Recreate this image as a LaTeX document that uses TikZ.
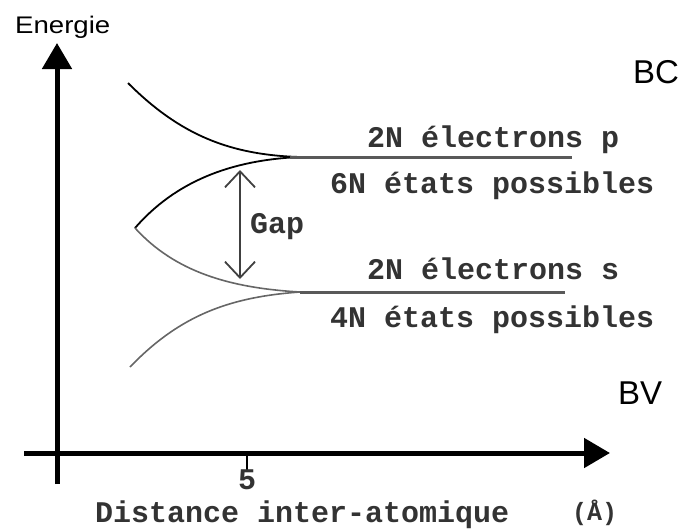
\documentclass[tikz,border=0pt]{standalone}
\usepackage{fontspec}
\setsansfont{Liberation Sans}
\setmonofont{Liberation Mono}
\usepackage{tikz}
\usetikzlibrary{arrows.meta,positioning,calc}

\begin{document}
\begin{tikzpicture}[
    x=1pt, y=-1pt,
    axis/.style={line width=5pt, -{Triangle[length=26pt, width=29pt]}},
    band/.style={line width=1.8pt},
    bandgray/.style={line width=1.6pt, black!60},
    level/.style={line width=3pt, black!65},
    lbl/.style={inner sep=0pt, anchor=base west, font=\ttfamily\bfseries\fontsize{30}{34}\selectfont, text=black!80},
    sans/.style={inner sep=0pt, anchor=base west, font=\sffamily\fontsize{33}{36}\selectfont}
]
\useasboundingbox (0,0) rectangle (680,528);
% axes
\coordinate (ybot) at (57,484);
\coordinate (ytop) at (57,43);
\coordinate (xleft) at (24,453);
\coordinate (xright) at (610,453);
\draw[axis] (ybot) -- (ytop);
\draw[axis] (xleft) -- (xright);
\coordinate (t5) at (247,453);
\coordinate (t5b) at (247,470);
\draw[line width=2.5pt] (t5) -- (t5b);

% band curves
\coordinate (c1) at (128,83);
\coordinate (m) at (135,228);
\coordinate (c4) at (130,367);
\coordinate (jp) at (300,157);
\coordinate (js) at (300,292);
\coordinate (ep) at (572,157);
\coordinate (es) at (565,292);
\draw[band] (c1) .. controls (180,135) and (230,155) .. (jp);
\draw[band] (m) .. controls (175,182) and (230,160) .. (jp);
\draw[bandgray] (m) .. controls (175,272) and (230,288) .. (js);
\draw[bandgray] (c4) .. controls (180,315) and (230,297) .. (js);
\draw[level] (290,157) -- (ep);
\draw[level] (js) -- (es);

% gap arrow
\coordinate (gtop) at (240,170);
\coordinate (gbot) at (240,279);
\draw[line width=1.8pt, black!75, {Straight Barb[length=16pt, width=30pt]}-{Straight Barb[length=16pt, width=30pt]}] (gtop) -- (gbot);
\node[lbl] (gap) at (250,233) {Gap};

% labels
\node[sans, font=\sffamily\fontsize{24}{26}\selectfont] (ylab) at (15,33) {\scalebox{1.15}[1]{Energie}};
\node[sans] (bc) at (633,83) {BC};
\node[sans] (bv) at (618,404) {BV};
\node[lbl] (p1) at (367,147) {2N électrons p};
\node[lbl] (p2) at (330,193) {6N états possibles};
\node[lbl] (s1) at (367,279) {2N électrons s};
\node[lbl] (s2) at (330,327) {4N états possibles};
\node[lbl, anchor=base] (tick5) at (247,489) {5};
\node[lbl] (xlab) at (95,522) {Distance inter-atomique};
\node[lbl, font=\ttfamily\bfseries\fontsize{25}{28}\selectfont] (unit) at (572,520) {(Å)};
\end{tikzpicture}
\end{document}
